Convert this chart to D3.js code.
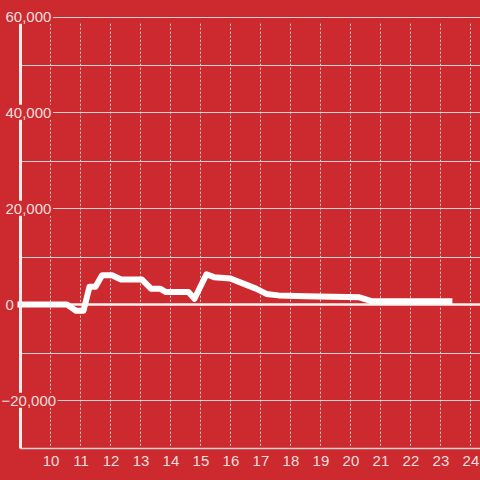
<!DOCTYPE html>
<html>
<head>
<meta charset="utf-8">
<script src="https://cdn.jsdelivr.net/npm/d3@7"></script>
<style>
  body { margin: 0; background: #cc2a2f; }
  svg { display: block; }
</style>
</head>
<body>
<div id="chart"></div>
<script>
// data (hour of day, value)
var hours  = [9, 10.55, 10.85, 11.1, 11.3, 11.5, 11.72, 12.05, 12.35, 13.05, 13.35, 13.65, 13.85, 14.6, 14.8, 15.2, 15.45, 16.0, 16.45, 16.85, 17.2, 17.6, 18.5, 20.3, 20.7, 23.3];
var values = [0, 0, -1300, -1300, 3700, 3700, 6100, 6100, 5200, 5200, 3300, 3300, 2600, 2600, 1200, 6300, 5700, 5400, 4300, 3300, 2200, 1900, 1700, 1500, 700, 700];
var xTicks = [10, 11, 12, 13, 14, 15, 16, 17, 18, 19, 20, 21, 22, 23, 24];
var yGrid  = [50000, 40000, 30000, 20000, 10000, -10000, -20000];
var yLabels = [60000, 40000, 20000, 0, -20000];

var width = 480, height = 480;
var bg = "#cc2a2f", txt = "#f3dede", grid = "#d2d2d2";

var svg = d3.select("#chart").append("svg")
    .attr("width", width)
    .attr("height", height)
    .style("font-family", "'Liberation Sans', Arial, sans-serif");

svg.append("rect").attr("width", width).attr("height", height).attr("fill", bg);

var x = d3.scaleLinear().domain([9, 24.32]).range([20.5, 480]);
var y = d3.scaleLinear().domain([-30000, 60000]).range([448.5, 16.5]);

// vertical dashed grid
svg.append("g").selectAll("line")
    .data(xTicks)
  .enter().append("line")
    .attr("x1", function(d) { return Math.round(x(d)) + 0.5; })
    .attr("x2", function(d) { return Math.round(x(d)) + 0.5; })
    .attr("y1", y(58500))
    .attr("y2", y(-29500))
    .attr("stroke", grid)
    .attr("stroke-dasharray", "2,2");

// horizontal grid
svg.append("g").selectAll("line")
    .data(yGrid.concat([60000]))
  .enter().append("line")
    .attr("x1", x(9))
    .attr("x2", width)
    .attr("y1", function(d) { return Math.round(y(d)) + 0.5; })
    .attr("y2", function(d) { return Math.round(y(d)) + 0.5; })
    .attr("stroke", grid);

// bottom axis line
svg.append("line")
    .attr("x1", x(9)).attr("x2", width)
    .attr("y1", y(-30000)).attr("y2", y(-30000))
    .attr("stroke", grid).attr("stroke-width", 1.5);

// zero line
svg.append("line")
    .attr("x1", x(9)).attr("x2", width)
    .attr("y1", y(0)).attr("y2", y(0))
    .attr("stroke", "#f4f1f1").attr("stroke-width", 2.5);

// the series
var line = d3.line()
    .x(function(d, i) { return x(hours[i]); })
    .y(function(d) { return y(d); });

svg.append("path")
    .datum(values)
    .attr("d", line)
    .attr("fill", "none")
    .attr("stroke", "#ffffff")
    .attr("stroke-width", 6)
    .attr("stroke-linejoin", "round")
    .attr("stroke-linecap", "square");

// left axis line
svg.append("line")
    .attr("x1", x(9)).attr("x2", x(9))
    .attr("y1", y(61000)).attr("y2", y(-30000))
    .attr("stroke", "#f2eeee").attr("stroke-width", 3);

// y labels with red backing
var fmt = d3.format(",");
var yl = svg.append("g").selectAll("g")
    .data(yLabels)
  .enter().append("g");

yl.append("text")
    .attr("x", function(d) { return d < 0 ? 1.5 : 5.5; })
    .attr("y", function(d) { return y(d); })
    .attr("dy", "0.35em")
    .attr("fill", txt)
    .style("font-size", "15px")
    .text(function(d) { return fmt(d); })
    .each(function() {
      var b = this.getBBox();
      d3.select(this.parentNode).insert("rect", "text")
          .attr("x", b.x - 1).attr("y", b.y + 1)
          .attr("width", b.width + 2.5).attr("height", b.height - 2)
          .attr("fill", bg);
    });

// x labels
svg.append("g").selectAll("text")
    .data(xTicks)
  .enter().append("text")
    .attr("x", function(d) { return x(d) + 0.5; })
    .attr("y", 461)
    .attr("dy", "0.35em")
    .attr("text-anchor", "middle")
    .attr("fill", txt)
    .style("font-size", "15px")
    .text(function(d) { return d; });
</script>
</body>
</html>
